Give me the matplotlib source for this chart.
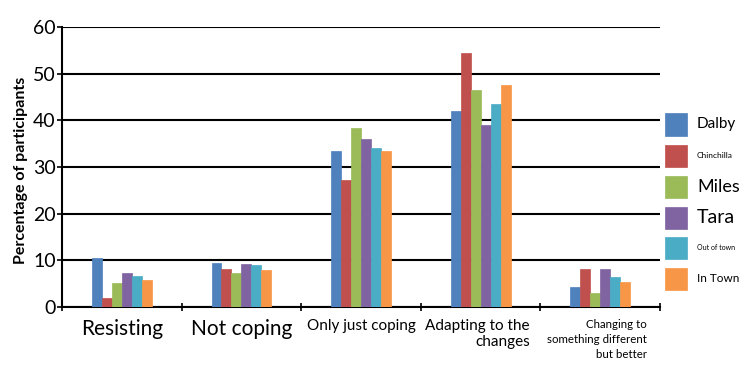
import matplotlib
matplotlib.use("Agg")
import matplotlib.pyplot as plt
import numpy as np
from matplotlib.patches import Rectangle

plt.rcParams['font.family'] = ['Lato', 'DejaVu Sans']

categories = ["Resisting", "Not coping", "Only just coping", "Adapting to the\nchanges",
              "Changing to\nsomething different\nbut better"]
cat_fontsizes = [15, 15, 11, 11, 8.3]
cat_align = ["center", "center", "center", "right", "right"]

series = ["Dalby", "Chinchilla", "Miles", "Tara", "Out of town", "In Town"]
legend_fontsizes = [11, 6, 13, 14, 5, 8.5]
colors = ["#4F81BD", "#C0504D", "#9BBB59", "#8064A2", "#4BACC6", "#F79646"]

dalby = [10.4, 9.4, 33.5, 42.0, 4.2]
chinchilla = [2.0, 8.2, 27.3, 54.5, 8.1]
miles = [5.1, 7.2, 38.4, 46.4, 2.9]
tara = [7.2, 9.2, 36.0, 39.1, 8.1]
out_of_town = [6.6, 9.0, 34.0, 43.6, 6.5]
in_town = [5.85, 8.0, 33.5, 47.5, 5.3]
values = [dalby, chinchilla, miles, tara, out_of_town, in_town]

yticks = [0, 10, 20, 30, 40, 50, 60]

fig = plt.figure(figsize=(7.54, 3.76), dpi=100)
ax = fig.add_axes([62/754, 1 - 307/376, (660-62)/754, 280/376])

n = len(series)
w = 1/12
x = np.arange(len(categories))
for i, (s, vals) in enumerate(zip(series, values)):
    offs = (i - (n-1)/2) * w
    ax.bar(x + offs, vals, width=w, color=colors[i], edgecolor=colors[i], linewidth=0.5, zorder=3)

ax.set_xlim(-0.5, len(categories) - 0.5)
ax.set_ylim(0, 60)
ax.set_yticks(yticks)
ax.set_yticklabels([str(t) for t in yticks], fontsize=14)
ax.yaxis.grid(True, color="black", linewidth=1.5, zorder=0)
ax.set_axisbelow(True)
for sp in ["top", "right"]:
    ax.spines[sp].set_visible(False)
ax.spines["left"].set_linewidth(1.5)
ax.spines["bottom"].set_linewidth(1.5)
ax.tick_params(axis="y", direction="out", length=3.5, width=1.2, pad=1)

# x ticks at category boundaries
ax.set_xticks(np.arange(len(categories) + 1) - 0.5)
ax.set_xticklabels([])
ax.tick_params(axis="x", direction="inout", length=6, width=1.2)

right_offsets = [0, 0, 0, 0.413, 0.39]
spacings = [1.1, 1.1, 1.1, 1.2, 1.45]
for xi, (lab, fs, al) in enumerate(zip(categories, cat_fontsizes, cat_align)):
    if al == "center":
        ax.text(xi, -2.5, lab, ha="center", va="top", fontsize=fs, linespacing=spacings[xi])
    else:
        ax.text(xi + right_offsets[xi], -2.5, lab, ha="right", va="top", fontsize=fs,
                multialignment="right", linespacing=spacings[xi])

fig.text(21/754, 1 - 170/376, "Percentage of participants", rotation=90, ha="center",
         va="center", fontsize=11.5, fontweight="bold")

# legend drawn manually
box = 22
ys = [124.5, 156, 187, 217.5, 248, 279]
for s, c, fs, yc in zip(series, colors, legend_fontsizes, ys):
    fig.patches.append(Rectangle((665/754, 1 - (yc + box/2)/376), box/754, box/376,
                                 transform=fig.transFigure, facecolor=c, edgecolor=c, linewidth=0.5))
    fig.text(697/754, 1 - yc/376, s, ha="left", va="center", fontsize=fs)

fig.savefig("out.png", dpi=100)
